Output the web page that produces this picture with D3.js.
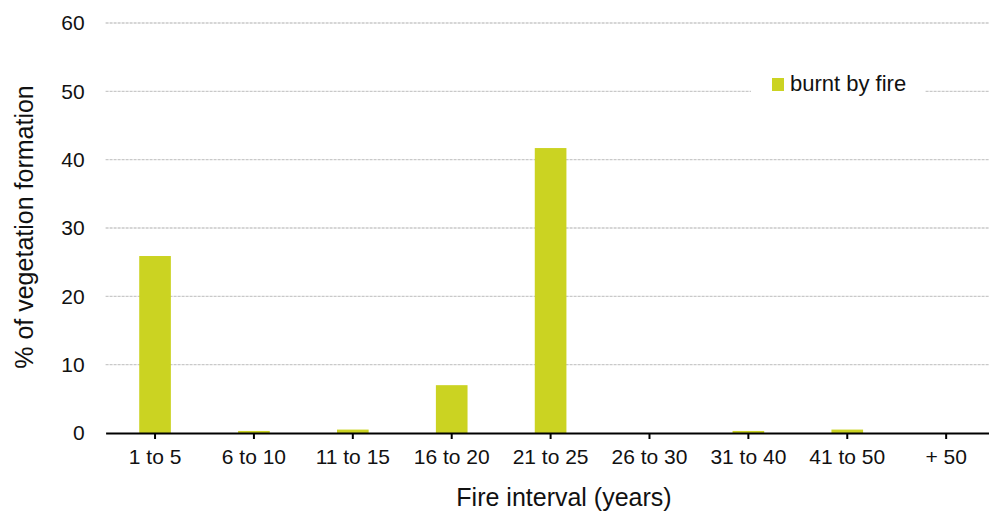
<!DOCTYPE html>
<html>
<head>
<meta charset="utf-8">
<script src="https://cdn.jsdelivr.net/npm/d3@7"></script>
<style>
  html, body { margin: 0; padding: 0; background: #fff; }
  svg { display: block; font-family: "Liberation Sans", Arial, sans-serif; }
</style>
</head>
<body>
<svg id="chart" width="989" height="518"></svg>
<script>
// Fire interval classes and share of vegetation formation burnt (%)
const categories = ["1 to 5", "6 to 10", "11 to 15", "16 to 20", "21 to 25", "26 to 30", "31 to 40", "41 to 50", "+ 50"];
const burntByFire = [25.9, 0.3, 0.5, 7.0, 41.7, 0, 0.3, 0.5, 0];
const yTicks = [0, 10, 20, 30, 40, 50, 60];
const seriesName = "burnt by fire";

const svg = d3.select("#chart");
const plot = { left: 105.6, right: 995.6, top: 23, bottom: 433 };
const barColor = "#cbd322";

const x = d3.scaleBand()
  .domain(categories)
  .range([plot.left, plot.right])
  .paddingInner(0.68)
  .paddingOuter(0.34);

const y = d3.scaleLinear()
  .domain([0, 60])
  .range([plot.bottom, plot.top]);

// Horizontal dashed gridlines
svg.append("g")
  .selectAll("line")
  .data(yTicks.filter(d => d > 0))
  .join("line")
  .attr("x1", plot.left)
  .attr("x2", plot.right)
  .attr("y1", d => y(d))
  .attr("y2", d => y(d))
  .attr("stroke", "#c9c9c9")
  .attr("stroke-width", 1.3)
  .attr("stroke-dasharray", "3,1");

// Y axis labels (no axis line)
const yAxis = svg.append("g")
  .attr("transform", `translate(${plot.left},0)`)
  .call(d3.axisLeft(y).tickValues(yTicks).tickSize(0).tickPadding(21));
yAxis.select(".domain").remove();
yAxis.selectAll("text")
  .attr("font-size", 21)
  .attr("fill", "#111")
  .attr("font-family", "Liberation Sans, Arial, sans-serif");

// Bars
svg.append("g")
  .selectAll("rect")
  .data(categories.map((c, i) => ({ c, v: burntByFire[i] })))
  .join("rect")
  .attr("x", d => x(d.c))
  .attr("width", x.bandwidth())
  .attr("y", d => y(d.v))
  .attr("height", d => y(0) - y(d.v))
  .attr("fill", barColor);

// X axis
const xAxis = svg.append("g")
  .attr("transform", `translate(0,${plot.bottom})`)
  .call(d3.axisBottom(x).tickSizeOuter(0).tickSizeInner(6).tickPadding(10));
xAxis.select(".domain").attr("stroke", "#000").attr("stroke-width", 2.2);
xAxis.selectAll(".tick line").attr("stroke", "#000").attr("stroke-width", 2);
xAxis.selectAll("text")
  .attr("font-size", 21)
  .attr("fill", "#111")
  .attr("font-family", "Liberation Sans, Arial, sans-serif");

// Axis titles
svg.append("text")
  .attr("x", 564)
  .attr("y", 506)
  .attr("text-anchor", "middle")
  .attr("font-size", 25)
  .attr("fill", "#111")
  .text("Fire interval (years)");

svg.append("text")
  .attr("transform", `translate(33,227) rotate(-90)`)
  .attr("text-anchor", "middle")
  .attr("font-size", 25)
  .attr("fill", "#111")
  .text("% of vegetation formation");

// Legend with a white backing that interrupts the gridline
const legend = svg.append("g");
legend.append("rect")
  .attr("x", 751).attr("y", 72)
  .attr("width", 174).attr("height", 26)
  .attr("fill", "#fff");
legend.append("rect")
  .attr("x", 772).attr("y", 78)
  .attr("width", 12).attr("height", 13)
  .attr("fill", barColor);
legend.append("text")
  .attr("x", 790).attr("y", 91)
  .attr("font-size", 22)
  .attr("fill", "#111")
  .text(seriesName);
</script>
</body>
</html>
